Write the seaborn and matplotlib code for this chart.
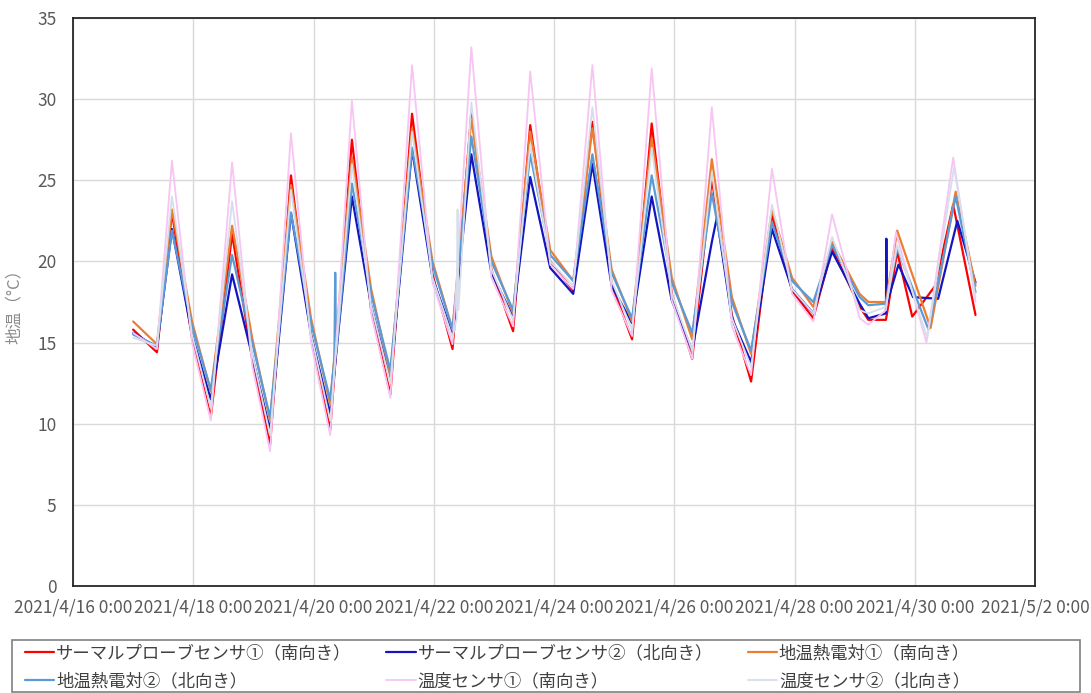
import pandas as pd
import numpy as np
import matplotlib
matplotlib.use("Agg")
import matplotlib.pyplot as plt
import matplotlib.ticker as mticker
import matplotlib.dates as mdates
from matplotlib.patches import Rectangle
import seaborn as sns

# knot times (2021) shared by all series up to 4/28 afternoon
t_main = ["04-17 00:00", "04-17 09:30", "04-17 15:30", "04-17 23:30", "04-18 07:00",
          "04-18 15:30", "04-18 23:30", "04-19 06:40", "04-19 15:00", "04-19 23:00",
          "04-20 06:40", "04-20 15:20", "04-20 23:00", "04-21 06:40", "04-21 15:20",
          "04-21 23:30", "04-22 07:30", "04-22 15:00", "04-22 23:00", "04-23 07:40",
          "04-23 14:30", "04-23 22:30", "04-24 07:40", "04-24 15:20", "04-24 23:00",
          "04-25 07:10", "04-25 15:00", "04-25 23:00", "04-26 07:10", "04-26 15:00",
          "04-26 23:00", "04-27 06:40", "04-27 15:00", "04-27 23:00", "04-28 07:30",
          "04-28 15:00"]

red_main = [15.8, 14.4, 23.0, 15.3, 10.4, 21.7, 14.0, 8.7, 25.3, 15.5, 9.6, 27.5, 17.0, 11.8,
            29.1, 19.2, 14.6, 29.2, 19.5, 15.7, 28.4, 20.0, 18.2, 28.6, 18.6, 15.2, 28.5, 18.0,
            14.0, 25.1, 16.7, 12.6, 22.9, 18.2, 16.5, 20.8]
blue_main = [15.6, 14.7, 22.0, 15.5, 11.5, 19.2, 14.2, 9.6, 23.0, 15.5, 10.6, 24.0, 17.3, 12.7,
             26.9, 19.0, 15.5, 26.6, 19.3, 16.6, 25.2, 19.6, 18.0, 26.0, 18.5, 16.2, 24.0, 17.6,
             14.5, 21.2, 16.5, 13.8, 22.0, 18.3, 16.8, 20.6]
orange_main = [16.3, 14.9, 23.2, 16.3, 12.0, 22.2, 15.3, 10.2, 24.7, 16.5, 11.2, 26.4, 18.3, 13.0,
               28.2, 20.0, 15.8, 28.8, 20.3, 16.8, 28.0, 20.7, 18.8, 28.2, 19.5, 16.3, 27.6, 19.0,
               15.2, 26.3, 17.8, 14.3, 23.2, 19.0, 17.2, 21.2]
lblue_main = [15.5, 14.8, 21.9, 16.0, 12.1, 20.4, 15.0, 10.4, 23.0, 16.2, 11.5, 24.8, 18.0, 13.3,
              27.0, 19.8, 15.8, 27.7, 20.0, 17.0, 26.6, 20.4, 18.8, 26.6, 19.3, 16.5, 25.3, 18.7,
              15.6, 24.2, 17.5, 14.5, 22.4, 18.8, 17.5, 21.0]
pink_main = [15.6, 14.6, 26.2, 15.0, 10.2, 26.1, 13.6, 8.3, 27.9, 15.0, 9.3, 29.9, 16.8, 11.6,
             32.1, 18.7, 14.9, 33.2, 19.0, 16.0, 31.7, 19.8, 18.3, 32.1, 18.2, 15.4, 31.9, 17.6,
             14.0, 29.5, 16.0, 13.0, 25.7, 18.0, 16.3, 22.9]
gray_main = [15.3, 14.8, 24.0, 15.5, 11.0, 23.7, 14.3, 9.3, 24.4, 15.5, 10.2, 26.0, 17.3, 12.5,
             28.0, 19.0, 15.3, 29.8, 19.5, 16.4, 27.2, 20.0, 18.5, 29.5, 18.8, 15.8, 27.0, 18.0,
             14.5, 25.5, 16.5, 13.5, 23.5, 18.3, 16.8, 21.5]

# extra points (spikes, gaps, last two days) per series
red_extra = [("04-29 02:00", 17.2), ("04-29 05:30", 16.4), ("04-29 12:30", 16.4),
             ("04-29 17:00", 20.6), ("04-29 23:00", 16.6), ("04-30 08:10", 18.5),
             ("04-30 15:20", 23.5), ("05-01 00:15", 16.7)]
blue_extra = [("04-26 17:00", 22.7), ("04-29 02:00", 17.4), ("04-29 05:30", 16.5),
              ("04-29 12:30", 16.8), ("04-29 12:40", 21.4), ("04-29 12:50", 17.4),
              ("04-29 17:30", 19.8), ("04-29 23:20", 17.8), ("04-30 09:20", 17.7),
              ("04-30 17:00", 22.5), ("05-01 00:15", 18.7)]
orange_extra = [("04-29 02:00", 18.0), ("04-29 05:30", 17.5), ("04-29 12:30", 17.5),
                ("04-29 17:00", 21.9), ("04-30 06:20", 15.9), ("04-30 16:20", 24.3),
                ("05-01 00:15", 18.5)]
lblue_extra = [("04-20 08:20", 13.9), ("04-20 08:40", 19.3), ("04-20 09:00", 14.3),
               ("04-29 02:00", 17.8), ("04-29 05:30", 17.3), ("04-29 12:30", 17.4),
               ("04-29 17:00", 20.8), ("04-30 05:30", 15.8), ("04-30 16:20", 24.0),
               ("05-01 00:15", 18.1)]
pink_extra = [("04-29 02:00", 16.5), ("04-29 05:30", 16.1), ("04-29 12:30", 17.0),
              ("04-29 16:30", 21.8), ("04-30 04:40", 15.0), ("04-30 15:20", 26.4),
              ("05-01 00:15", 17.5)]
gray_extra = [("04-22 09:10", 16.5), ("04-22 09:30", 23.2), ("04-22 09:50", 17.0),
              ("04-29 02:00", 17.0), ("04-29 05:30", 16.8), ("04-29 12:30", 17.2),
              ("04-29 17:00", 21.0), ("04-30 05:00", 15.3), ("04-30 15:40", 25.8),
              ("05-01 00:15", 17.8)]

labels = ["サーマルプローブセンサ①（南向き）", "サーマルプローブセンサ②（北向き）",
          "地温熱電対①（南向き）", "地温熱電対②（北向き）",
          "温度センサ①（南向き）", "温度センサ②（北向き）"]
colors = ["#ff0000", "#1414c0", "#ed7d31", "#5b9bd5", "#f7c4f4", "#d5dfeb"]
widths = [1.6, 1.6, 1.6, 1.6, 1.3, 1.3]

sns.set_theme(style="white")
plt.rcParams["font.family"] = ["Noto Sans CJK JP", "DejaVu Sans"]


def build(main_vals, extra):
    t = [pd.Timestamp("2021-" + s) for s in t_main] + [pd.Timestamp("2021-" + s) for s, _ in extra]
    v = list(main_vals) + [val for _, val in extra]
    d = pd.DataFrame({"time": t, "value": v})
    return d.sort_values("time")


series = [build(red_main, red_extra), build(blue_main, blue_extra),
          build(orange_main, orange_extra), build(lblue_main, lblue_extra),
          build(pink_main, pink_extra), build(gray_main, gray_extra)]

fig = plt.figure(figsize=(10.91, 6.93), dpi=100)
ax = fig.add_axes([73 / 1091, 1 - 586 / 693, (1035 - 73) / 1091, (586 - 18) / 693])

for d, lab, c, w in zip(series, labels, colors, widths):
    sns.lineplot(data=d, x="time", y="value", ax=ax, color=c, linewidth=w,
                 label=lab, estimator=None, sort=False)

ax.set_xlim(pd.Timestamp("2021-04-16"), pd.Timestamp("2021-05-02"))
ax.set_ylim(0, 35)
ax.set_yticks(np.arange(0, 36, 5))
xt = pd.date_range("2021-04-16", "2021-05-02", freq="2D")
ax.set_xticks(xt)
ax.xaxis.set_major_formatter(mticker.FuncFormatter(
    lambda x, pos: (lambda d: f"{d.year}/{d.month}/{d.day} {d.hour}:{d.minute:02d}")(mdates.num2date(x))))

ax.grid(True, color="#d9d9d9", linewidth=1)
for s in ax.spines.values():
    s.set_color("#262626")
    s.set_linewidth(1.3)
ax.tick_params(axis="both", colors="#595959", labelsize=12.5, length=0)
ax.tick_params(axis="y", pad=12)
ax.tick_params(axis="x", pad=9)
ax.set_xlabel("")
ax.set_ylabel("地温（°C）", color="#8c8c8c", fontsize=12, labelpad=10)

# legend in row-major order like the original
handles, labs = ax.get_legend_handles_labels()
ax.get_legend().remove()
order = [0, 3, 1, 4, 2, 5]
fig.legend([handles[i] for i in order], [labs[i] for i in order], ncol=3, loc="upper left",
           bbox_to_anchor=(18 / 1091, 1 - 637 / 693), frameon=False, fontsize=12.5,
           handlelength=1.7, handletextpad=0.1, columnspacing=2.0, labelspacing=0.6,
           borderaxespad=0, labelcolor="#404040")
fig.patches.append(Rectangle((12 / 1091, 0.002), (1080 - 12) / 1091, (692 - 640) / 693,
                             transform=fig.transFigure, fill=False, edgecolor="#808080",
                             linewidth=1.2))

fig.savefig("out.png", dpi=100)
